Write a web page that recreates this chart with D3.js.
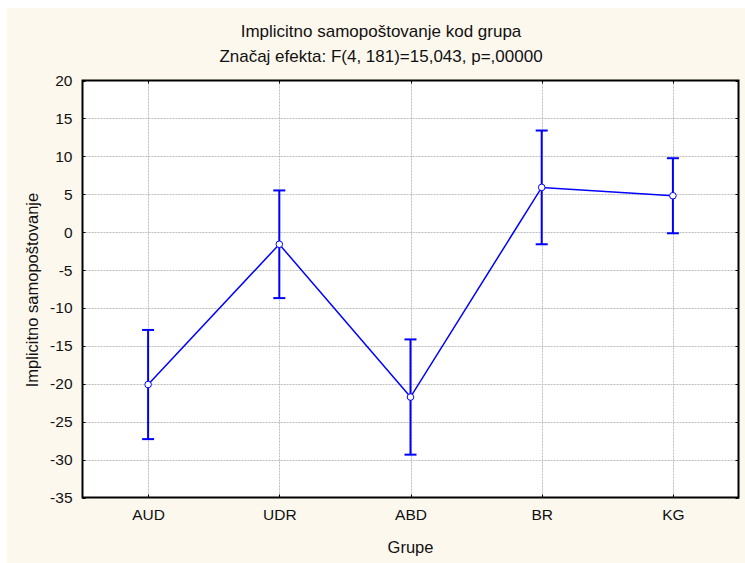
<!DOCTYPE html>
<html><head><meta charset="utf-8">
<script src="https://cdn.jsdelivr.net/npm/d3@7"></script>
<style>body{margin:0;background:#fff}svg{display:block;font-family:"Liberation Sans",Arial,sans-serif}</style>
</head><body>
<script>
const categories = ["AUD","UDR","ABD","BR","KG"];
const means = [-20.1, -1.6, -21.75, 5.9, 4.8];
const ciHalf = [7.2, 7.1, 7.6, 7.5, 4.95];
const yTicks = [20,15,10,5,0,-5,-10,-15,-20,-25,-30,-35];
const titleText = "Implicitno samopoštovanje kod grupa";
const subtitleText = "Značaj efekta: F(4, 181)=15,043, p=,00000";
const xLabel = "Grupe";
const yLabel = "Implicitno samopoštovanje";

const W = 745, H = 563;
const m = {left: 82.5, right: 738.5, top: 80.5, bottom: 497.5};
const svg = d3.select("body").append("svg").attr("width", W).attr("height", H);
svg.append("rect").attr("x", 7).attr("y", 8).attr("width", W-7).attr("height", H-8).attr("fill", "#fdf8ee");
svg.append("rect").attr("x", m.left).attr("y", m.top).attr("width", m.right-m.left).attr("height", m.bottom-m.top).attr("fill", "#fff");

const x = d3.scaleLinear().domain([0.5, categories.length + 0.5]).range([m.left, m.right]);
const y = d3.scaleLinear().domain([-35, 20]).range([m.bottom, m.top]);

// grid
const g = svg.append("g");
g.selectAll(".hg").data(yTicks.slice(1, -1)).join("line")
  .attr("x1", m.left).attr("x2", m.right).attr("y1", d => Math.round(y(d))+0.5).attr("y2", d => Math.round(y(d))+0.5)
  .attr("stroke", "#bdbdbd").attr("stroke-dasharray", "2,1").attr("stroke-width", 1);
g.selectAll(".vg").data(categories).join("line")
  .attr("x1", (d,i) => Math.round(x(i+1))+0.5).attr("x2", (d,i) => Math.round(x(i+1))+0.5).attr("y1", m.top).attr("y2", m.bottom)
  .attr("stroke", "#bdbdbd").attr("stroke-dasharray", "2,1").attr("stroke-width", 1);

// axes
const tickFont = 15.5;
const yAxisL = d3.axisLeft(y).tickValues(yTicks).tickFormat(d => String(d)).tickSize(0).tickPadding(10);
const ax = svg.append("g").attr("transform", `translate(${m.left},0)`).call(yAxisL);
ax.select(".domain").remove();
ax.selectAll("text").attr("font-size", tickFont).attr("fill", "#111").attr("font-family", "Liberation Sans, Arial, sans-serif");

const xAxis = d3.axisBottom(x).tickValues(categories.map((d,i)=>i+1)).tickFormat((d)=>categories[d-1]).tickSize(0).tickPadding(11);
const axb = svg.append("g").attr("transform", `translate(0,${m.bottom})`).call(xAxis);
axb.select(".domain").remove();
axb.selectAll("text").attr("font-size", tickFont).attr("fill", "#111").attr("font-family", "Liberation Sans, Arial, sans-serif");

// inward ticks
const tk = svg.append("g").attr("stroke", "#000").attr("stroke-width", 1);
yTicks.forEach(v => {
  const yy = Math.round(y(v))+0.5;
  tk.append("line").attr("x1", m.left).attr("x2", m.left+3).attr("y1", yy).attr("y2", yy);
  tk.append("line").attr("x1", m.right-3).attr("x2", m.right).attr("y1", yy).attr("y2", yy);
});
categories.forEach((c,i) => {
  const xx = Math.round(x(i+1))+0.5;
  tk.append("line").attr("x1", xx).attr("x2", xx).attr("y1", m.bottom-3).attr("y2", m.bottom);
  tk.append("line").attr("x1", xx).attr("x2", xx).attr("y1", m.top).attr("y2", m.top+3);
});

// frame
svg.append("rect").attr("x", m.left).attr("y", m.top).attr("width", m.right-m.left).attr("height", m.bottom-m.top)
  .attr("fill", "none").attr("stroke", "#000").attr("stroke-width", 2);

// data
const data = categories.map((c,i) => ({c, i: i+1, m: means[i], lo: means[i]-ciHalf[i], hi: means[i]+ciHalf[i]}));
const blue = "#0000ff";
const eb = svg.append("g").attr("stroke", blue).attr("stroke-width", 2).attr("fill", "none");
data.forEach(d => {
  const xx = x(d.i);
  eb.append("line").attr("x1", xx).attr("x2", xx).attr("y1", y(d.hi)).attr("y2", y(d.lo));
  eb.append("line").attr("x1", xx-6).attr("x2", xx+6).attr("y1", y(d.hi)).attr("y2", y(d.hi));
  eb.append("line").attr("x1", xx-6).attr("x2", xx+6).attr("y1", y(d.lo)).attr("y2", y(d.lo));
});
svg.append("path").datum(data).attr("fill", "none").attr("stroke", blue).attr("stroke-width", 1.5)
  .attr("d", d3.line().x(d => x(d.i)).y(d => y(d.m)));
svg.selectAll(".pt").data(data).join("circle")
  .attr("cx", d => x(d.i)).attr("cy", d => y(d.m)).attr("r", 3.3)
  .attr("fill", "#fff").attr("stroke", blue).attr("stroke-width", 1);

// titles
const tcx = 381;
svg.append("text").attr("x", tcx).attr("y", 36.5).attr("text-anchor", "middle").attr("font-size", 17).attr("fill", "#111").text(titleText);
svg.append("text").attr("x", tcx).attr("y", 61.5).attr("text-anchor", "middle").attr("font-size", 17).attr("fill", "#111").text(subtitleText);
svg.append("text").attr("x", (m.left + m.right)/2).attr("y", 553).attr("text-anchor", "middle").attr("font-size", 16.5).attr("fill", "#111").text(xLabel);
svg.append("text").attr("transform", `translate(38,290) rotate(-90)`).attr("text-anchor", "middle").attr("font-size", 16.5).attr("fill", "#111").text(yLabel);
</script>
</body></html>
